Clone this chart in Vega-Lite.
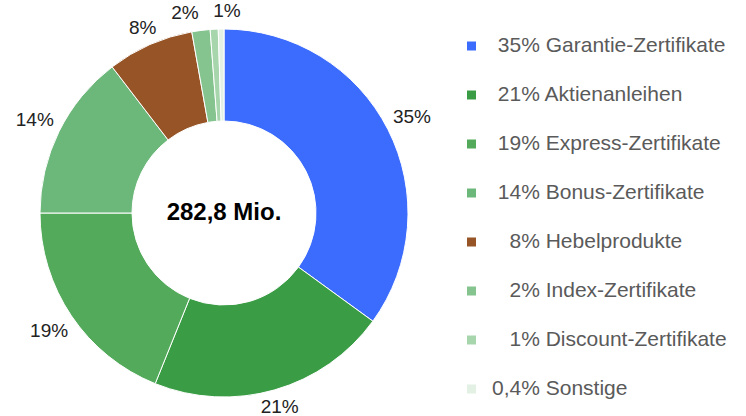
{
  "$schema": "https://vega.github.io/schema/vega-lite/v6.json",
  "width": 448,
  "height": 406,
  "autosize": "none",
  "padding": {"left": 0, "top": 10, "right": 298, "bottom": 0},
  "background": "white",
  "config": {"view": {"stroke": null}},
  "data": {
    "values": [
      {"idx": 1, "cat": "Garantie-Zertifikate", "legend": "\u200b\u200835% Garantie-Zertifikate", "value": 35.0, "label": "35%"},
      {"idx": 2, "cat": "Aktienanleihen", "legend": "\u200b\u200821% Aktienanleihen", "value": 21.1, "label": "21%"},
      {"idx": 3, "cat": "Express-Zertifikate", "legend": "\u200b\u200819% Express-Zertifikate", "value": 18.9, "label": "19%"},
      {"idx": 4, "cat": "Bonus-Zertifikate", "legend": "\u200b\u200814% Bonus-Zertifikate", "value": 14.6, "label": "14%"},
      {"idx": 5, "cat": "Hebelprodukte", "legend": "\u200b\u2007\u20088% Hebelprodukte", "value": 7.6, "label": "8%"},
      {"idx": 6, "cat": "Index-Zertifikate", "legend": "\u200b\u2007\u20082% Index-Zertifikate", "value": 1.6, "label": "2%"},
      {"idx": 7, "cat": "Discount-Zertifikate", "legend": "\u200b\u2007\u20081% Discount-Zertifikate", "value": 0.7, "label": "1%"},
      {"idx": 8, "cat": "Sonstige", "legend": "0,4% Sonstige", "value": 0.5, "label": ""}
    ]
  },
  "encoding": {
    "theta": {"field": "value", "type": "quantitative", "stack": true},
    "order": {"field": "idx", "type": "quantitative"}
  },
  "layer": [
    {
      "mark": {"type": "arc", "outerRadius": 184, "innerRadius": 92, "stroke": "white", "strokeWidth": 1},
      "encoding": {
        "color": {
          "field": "legend",
          "type": "nominal",
          "sort": null,
          "scale": {
            "domain": ["\u200b\u200835% Garantie-Zertifikate", "\u200b\u200821% Aktienanleihen", "\u200b\u200819% Express-Zertifikate", "\u200b\u200814% Bonus-Zertifikate", "\u200b\u2007\u20088% Hebelprodukte", "\u200b\u2007\u20082% Index-Zertifikate", "\u200b\u2007\u20081% Discount-Zertifikate", "0,4% Sonstige"],
            "range": ["#3c6cfe", "#3a9d45", "#52aa5a", "#6cb77a", "#965427", "#85c48f", "#a7d6ac", "#e3f1e4"]
          },
          "legend": {
            "title": null,
            "orient": "none",
            "legendX": 461,
            "legendY": 25.5,
            "symbolType": "square",
            "symbolSize": 81,
            "symbolStrokeWidth": 0,
            "labelFont": "Liberation Sans",
            "labelFontSize": 21,
            "labelColor": "#5a5a5a",
            "labelOffset": 10,
            "labelLimit": 400,
            "rowPadding": 27.0,
            "padding": 0
          }
        }
      }
    },
    {
      "mark": {"type": "text", "radius": 211, "font": "Liberation Sans", "fontSize": 19, "color": "#222222", "baseline": "middle"},
      "encoding": {"text": {"condition": {"test": "datum.idx == 1 || datum.idx == 3 || datum.idx == 4", "field": "label"}, "value": ""}}
    },
    {
      "mark": {"type": "text", "radius": 202, "font": "Liberation Sans", "fontSize": 19, "color": "#222222", "baseline": "middle"},
      "encoding": {"text": {"condition": {"test": "datum.idx == 2 || datum.idx == 5", "field": "label"}, "value": ""}}
    },
    {
      "mark": {"type": "text", "radius": 202, "font": "Liberation Sans", "fontSize": 19, "color": "#222222", "baseline": "middle", "align": "right"},
      "encoding": {"text": {"condition": {"test": "datum.idx == 6", "field": "label"}, "value": ""}}
    },
    {
      "mark": {"type": "text", "radius": 202, "font": "Liberation Sans", "fontSize": 19, "color": "#222222", "baseline": "middle", "align": "left"},
      "encoding": {"text": {"condition": {"test": "datum.idx == 7", "field": "label"}, "value": ""}}
    },
    {
      "data": {"values": [{"t": "282,8 Mio."}]},
      "mark": {"type": "text", "font": "Liberation Sans", "fontSize": 24, "fontWeight": "bold", "color": "#000000", "baseline": "middle", "align": "center"},
      "encoding": {"text": {"field": "t"}, "theta": null, "order": null}
    }
  ]
}
